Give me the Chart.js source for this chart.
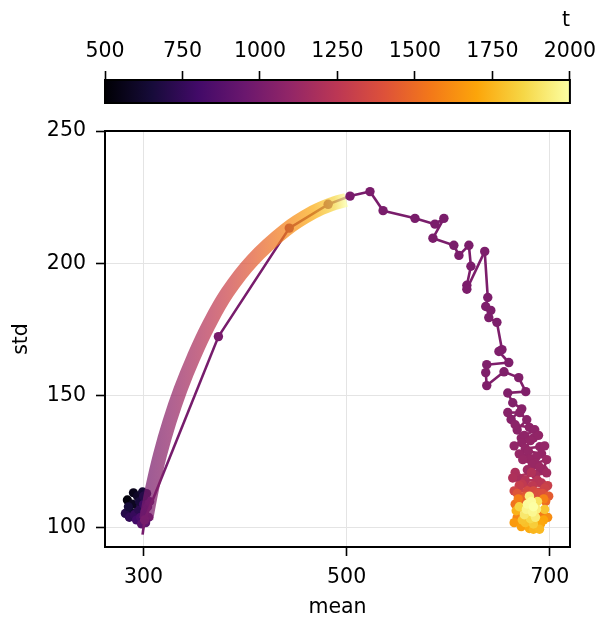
<!DOCTYPE html>
<html>
<head>
<meta charset="utf-8">
<script src="https://cdn.jsdelivr.net/npm/chart.js@4"></script>
<style>
  body { margin: 0; background: #fff; }
  #wrap { position: relative; width: 603px; height: 624px; }
  canvas { position: absolute; left: 0; top: 0; }
</style>
</head>
<body>
<div id="wrap">
  <canvas id="main" width="603" height="624"></canvas>
  <canvas id="cbar" width="603" height="110"></canvas>
</div>
<script>
const tMin = 500, tMax = 2000;
const cbarTicks = [500, 750, 1000, 1250, 1500, 1750, 2000];
const xTicks = [300, 500, 700];
const yTicks = [100, 150, 200, 250];

// early cloud (dark, left)
const leftMean = [284, 290, 294, 299, 303, 287, 282, 286, 291, 295, 289, 296, 300, 293, 297, 301, 304, 298, 302, 305, 306, 300, 285];
const leftStd  = [110.6, 113.3, 112, 113.6, 113, 106, 105.5, 104, 105, 107, 109, 110, 109, 103, 104, 106, 108, 101.5, 102, 104, 110, 112, 108];
const leftT    = [520, 560, 600, 640, 680, 620, 700, 740, 760, 720, 580, 660, 780, 800, 830, 850, 870, 890, 910, 930, 900, 700, 650];

// wide smooth band
const bandMean = [302.65, 308.35, 316.2, 325.55, 336.35, 349.15, 363.9, 382.55, 407.1, 439.55, 467.05, 487.7, 499.5];
const bandStd  = [103.4, 114.8, 127.65, 140.15, 152.3, 164.4, 176.5, 189.0, 201.1, 212.5, 219.3, 222.7, 223.9];
const bandT    = [1000, 1020, 1050, 1085, 1130, 1180, 1240, 1320, 1430, 1580, 1720, 1850, 2000];

// trajectory + right cloud
const pathMean = [299, 301, 373.7, 443.5, 481.8, 503.4, 523, 535.9, 567.3, 587, 595.8, 585, 605.6, 610.6, 620.4, 622.4, 618.4, 618.4, 636, 639, 637, 642, 640, 648, 653, 650, 659.7, 638, 637, 638, 655, 669.5, 676.4, 658.7, 663.6,
  672.5, 662, 658.7, 670.5, 677.4, 668, 666, 680, 685.3, 672, 675, 684, 672.5, 689, 665, 681, 676, 690.2, 695, 692, 679, 670, 687, 680, 673.5, 686, 683, 697, 694, 690, 678, 697, 686, 669, 666, 663.6, 682, 676, 688, 692, 683, 673, 670, 698, 695, 665, 678, 684, 688, 693, 668, 676, 699,
  674, 696, 666, 692, 669, 694, 668, 698, 688, 665, 672, 694, 691, 680, 667, 684, 690, 676, 673, 695, 684, 670, 681, 679, 688, 675, 686, 687, 680, 677, 683, 678, 682, 684];
const pathStd  = [97.5, 103, 172.3, 213.3, 222.3, 225.4, 227.1, 219.9, 217, 214.8, 217, 209.5, 206.8, 203, 206.8, 198.9, 191.7, 190.2, 204.5, 187.1, 183.7, 182.2, 179.5, 177.7, 167.4, 166.7, 162.5, 161.7, 158.7, 153.8, 159, 156.8, 151.5, 151, 147.3,
  145, 141, 143.6, 143.6, 140.9, 137, 139, 138, 137.1, 134, 135, 134, 132.2, 135, 131, 133, 130, 130.7, 131, 128, 129, 128, 127, 126, 125.8, 124.5, 124, 125.8, 122, 123, 122, 120.8, 120, 119, 121, 118.9, 121, 118, 118, 117, 116, 116.5, 116, 116, 115, 114, 114, 114, 113, 113, 113, 112, 112,
  111, 110, 109, 106, 111, 111, 104, 104, 101, 102, 100.5, 103, 101.5, 99.8, 106.5, 99.5, 99.5, 102, 103, 107, 101.5, 108, 103.5, 108, 110, 105, 104, 107, 112, 107, 106, 109, 110, 108];
const pathT    = [990, 995, 1000, 1001, 1002, 1003, 1004, 1005, 1006, 1007, 1008, 1009, 1010, 1011, 1012, 1013, 1014, 1015, 1016, 1017, 1018, 1019, 1020, 1021, 1022, 1023, 1024, 1025, 1026, 1027, 1028, 1029, 1030, 1031, 1035,
  1050, 1052, 1055, 1060, 1065, 1068, 1070, 1072, 1080, 1082, 1085, 1088, 1090, 1091, 1094, 1095, 1098, 1100, 1102, 1104, 1105, 1108, 1110, 1112, 1115, 1118, 1120, 1125, 1128, 1130, 1140, 1150, 1160, 1180, 1190, 1200, 1210, 1220, 1230, 1240, 1260, 1270, 1290, 1300, 1320, 1330, 1350, 1360, 1380, 1390, 1410, 1420, 1440,
  1470, 1500, 1530, 1560, 1565, 1580, 1600, 1620, 1640, 1660, 1680, 1700, 1705, 1720, 1740, 1750, 1760, 1780, 1790, 1800, 1820, 1840, 1860, 1870, 1890, 1910, 1930, 1940, 1950, 1960, 1970, 1985, 1990, 2000];

const INFERNO = ['#000004', '#160b39', '#420a68', '#6a176e', '#932667', '#bc3754', '#dd513a', '#f37819', '#fca50a', '#f6d746', '#fcffa4'];
const infRgb = INFERNO.map(h => [1, 3, 5].map(i => parseInt(h.slice(i, i + 2), 16)));

function tColor(t, a) {
  let f = (t - tMin) / (tMax - tMin);
  f = Math.max(0, Math.min(1, f)) * 10;
  const i = Math.min(9, Math.floor(f)), r = f - i;
  const c = infRgb[i].map((v, k) => Math.round(v + (infRgb[i + 1][k] - v) * r));
  return 'rgba(' + c.join(',') + ',' + (a === undefined ? 1 : a) + ')';
}

const pts = (xs, ys) => xs.map((x, i) => ({x: x, y: ys[i]}));

Chart.defaults.font.family = "'DejaVu Sans', sans-serif";
Chart.defaults.font.size = 20.5;
Chart.defaults.color = '#000';

const frame = {
  id: 'frame',
  afterDraw(chart) {
    const {ctx, chartArea: a} = chart;
    ctx.save();
    ctx.strokeStyle = '#000';
    ctx.lineWidth = 2;
    ctx.strokeRect(a.left, a.top, a.right - a.left, a.bottom - a.top);
    ctx.restore();
  }
};

// colour bar
const cbarFill = {
  id: 'cbarFill',
  beforeDatasetsDraw(chart) {
    const {ctx, chartArea: a} = chart;
    const g = ctx.createLinearGradient(a.left, 0, a.right, 0);
    INFERNO.forEach((c, i) => g.addColorStop(i / 10, c));
    ctx.save();
    ctx.fillStyle = g;
    ctx.fillRect(a.left, a.top, a.right - a.left, a.bottom - a.top);
    ctx.restore();
  }
};

new Chart(document.getElementById('cbar'), {
  type: 'scatter',
  data: { datasets: [] },
  options: {
    animation: false,
    responsive: false,
    layout: { padding: { left: 105, right: 33, top: 0, bottom: 7 } },
    plugins: { legend: { display: false }, tooltip: { enabled: false } },
    scales: {
      x: {
        type: 'linear', position: 'top', min: tMin, max: tMax,
        afterBuildTicks: s => { s.ticks = cbarTicks.map(v => ({value: v})); },
        afterFit: s => { s.height = 80; },
        ticks: { padding: 7, maxRotation: 0, autoSkip: false, callback: v => String(v) },
        grid: { drawOnChartArea: false, tickLength: 9, tickWidth: 1.6, tickColor: '#000' },
        border: { display: false },
        title: { display: true, text: 't', align: 'end', padding: { top: 8, bottom: 0 } }
      },
      y: { display: false, min: 0, max: 1 }
    }
  },
  plugins: [cbarFill, frame]
});

// main plot
new Chart(document.getElementById('main'), {
  type: 'scatter',
  data: {
    datasets: [
      {
        data: pts(bandMean, bandStd),
        showLine: true,
        pointRadius: 0,
        borderWidth: 14,
        borderCapStyle: 'butt',
        tension: 0.4,
        borderColor: (c) => {
          const chart = c.chart;
          if (!chart.chartArea) return tColor(1500, 0.72);
          const xs = chart.scales.x;
          const x0 = xs.getPixelForValue(bandMean[0]);
          const x1 = xs.getPixelForValue(bandMean[bandMean.length - 1]);
          const g = chart.ctx.createLinearGradient(x0, 0, x1, 0);
          bandMean.forEach((m, i) => g.addColorStop((xs.getPixelForValue(m) - x0) / (x1 - x0), tColor(bandT[i], 0.72)));
          return g;
        },
        order: 0
      },
      {
        data: pts(leftMean, leftStd),
        pointRadius: 4.6,
        pointBorderWidth: 0,
        pointBackgroundColor: leftT.map(t => tColor(t)),
        order: 2
      },
      {
        data: pts(pathMean, pathStd),
        showLine: true,
        borderWidth: 2.6,
        borderColor: tColor(1000),
        segment: { borderColor: c => tColor(pathT[c.p0DataIndex]) },
        pointRadius: pathT.map((t, i) => i === 0 ? 0 : 4.7),
        pointBorderWidth: 0,
        pointBackgroundColor: pathT.map(t => tColor(t)),
        order: 1
      }
    ]
  },
  options: {
    animation: false,
    responsive: false,
    layout: { padding: { left: 0, right: 33, top: 131, bottom: 0 } },
    plugins: { legend: { display: false }, tooltip: { enabled: false } },
    scales: {
      x: {
        type: 'linear', min: 262, max: 720,
        afterBuildTicks: s => { s.ticks = xTicks.map(v => ({value: v})); },
        afterFit: s => { s.height = 77; },
        ticks: { padding: 9, maxRotation: 0, autoSkip: false, callback: v => String(v) },
        grid: { color: '#e4e4e4', lineWidth: 1, tickColor: '#000', tickLength: 9, tickWidth: 1.6 },
        border: { display: false },
        title: { display: true, text: 'mean', padding: { top: 0, bottom: 4 } }
      },
      y: {
        type: 'linear', min: 92.8, max: 250,
        afterBuildTicks: s => { s.ticks = yTicks.map(v => ({value: v})); },
        afterFit: s => { s.width = 105; },
        ticks: { padding: 10, autoSkip: false, callback: v => String(v) },
        grid: { color: '#e4e4e4', lineWidth: 1, tickColor: '#000', tickLength: 9, tickWidth: 1.6 },
        border: { display: false },
        title: { display: true, text: 'std', padding: { top: 9, bottom: 0 } }
      }
    }
  },
  plugins: [frame]
});
</script>
</body>
</html>
